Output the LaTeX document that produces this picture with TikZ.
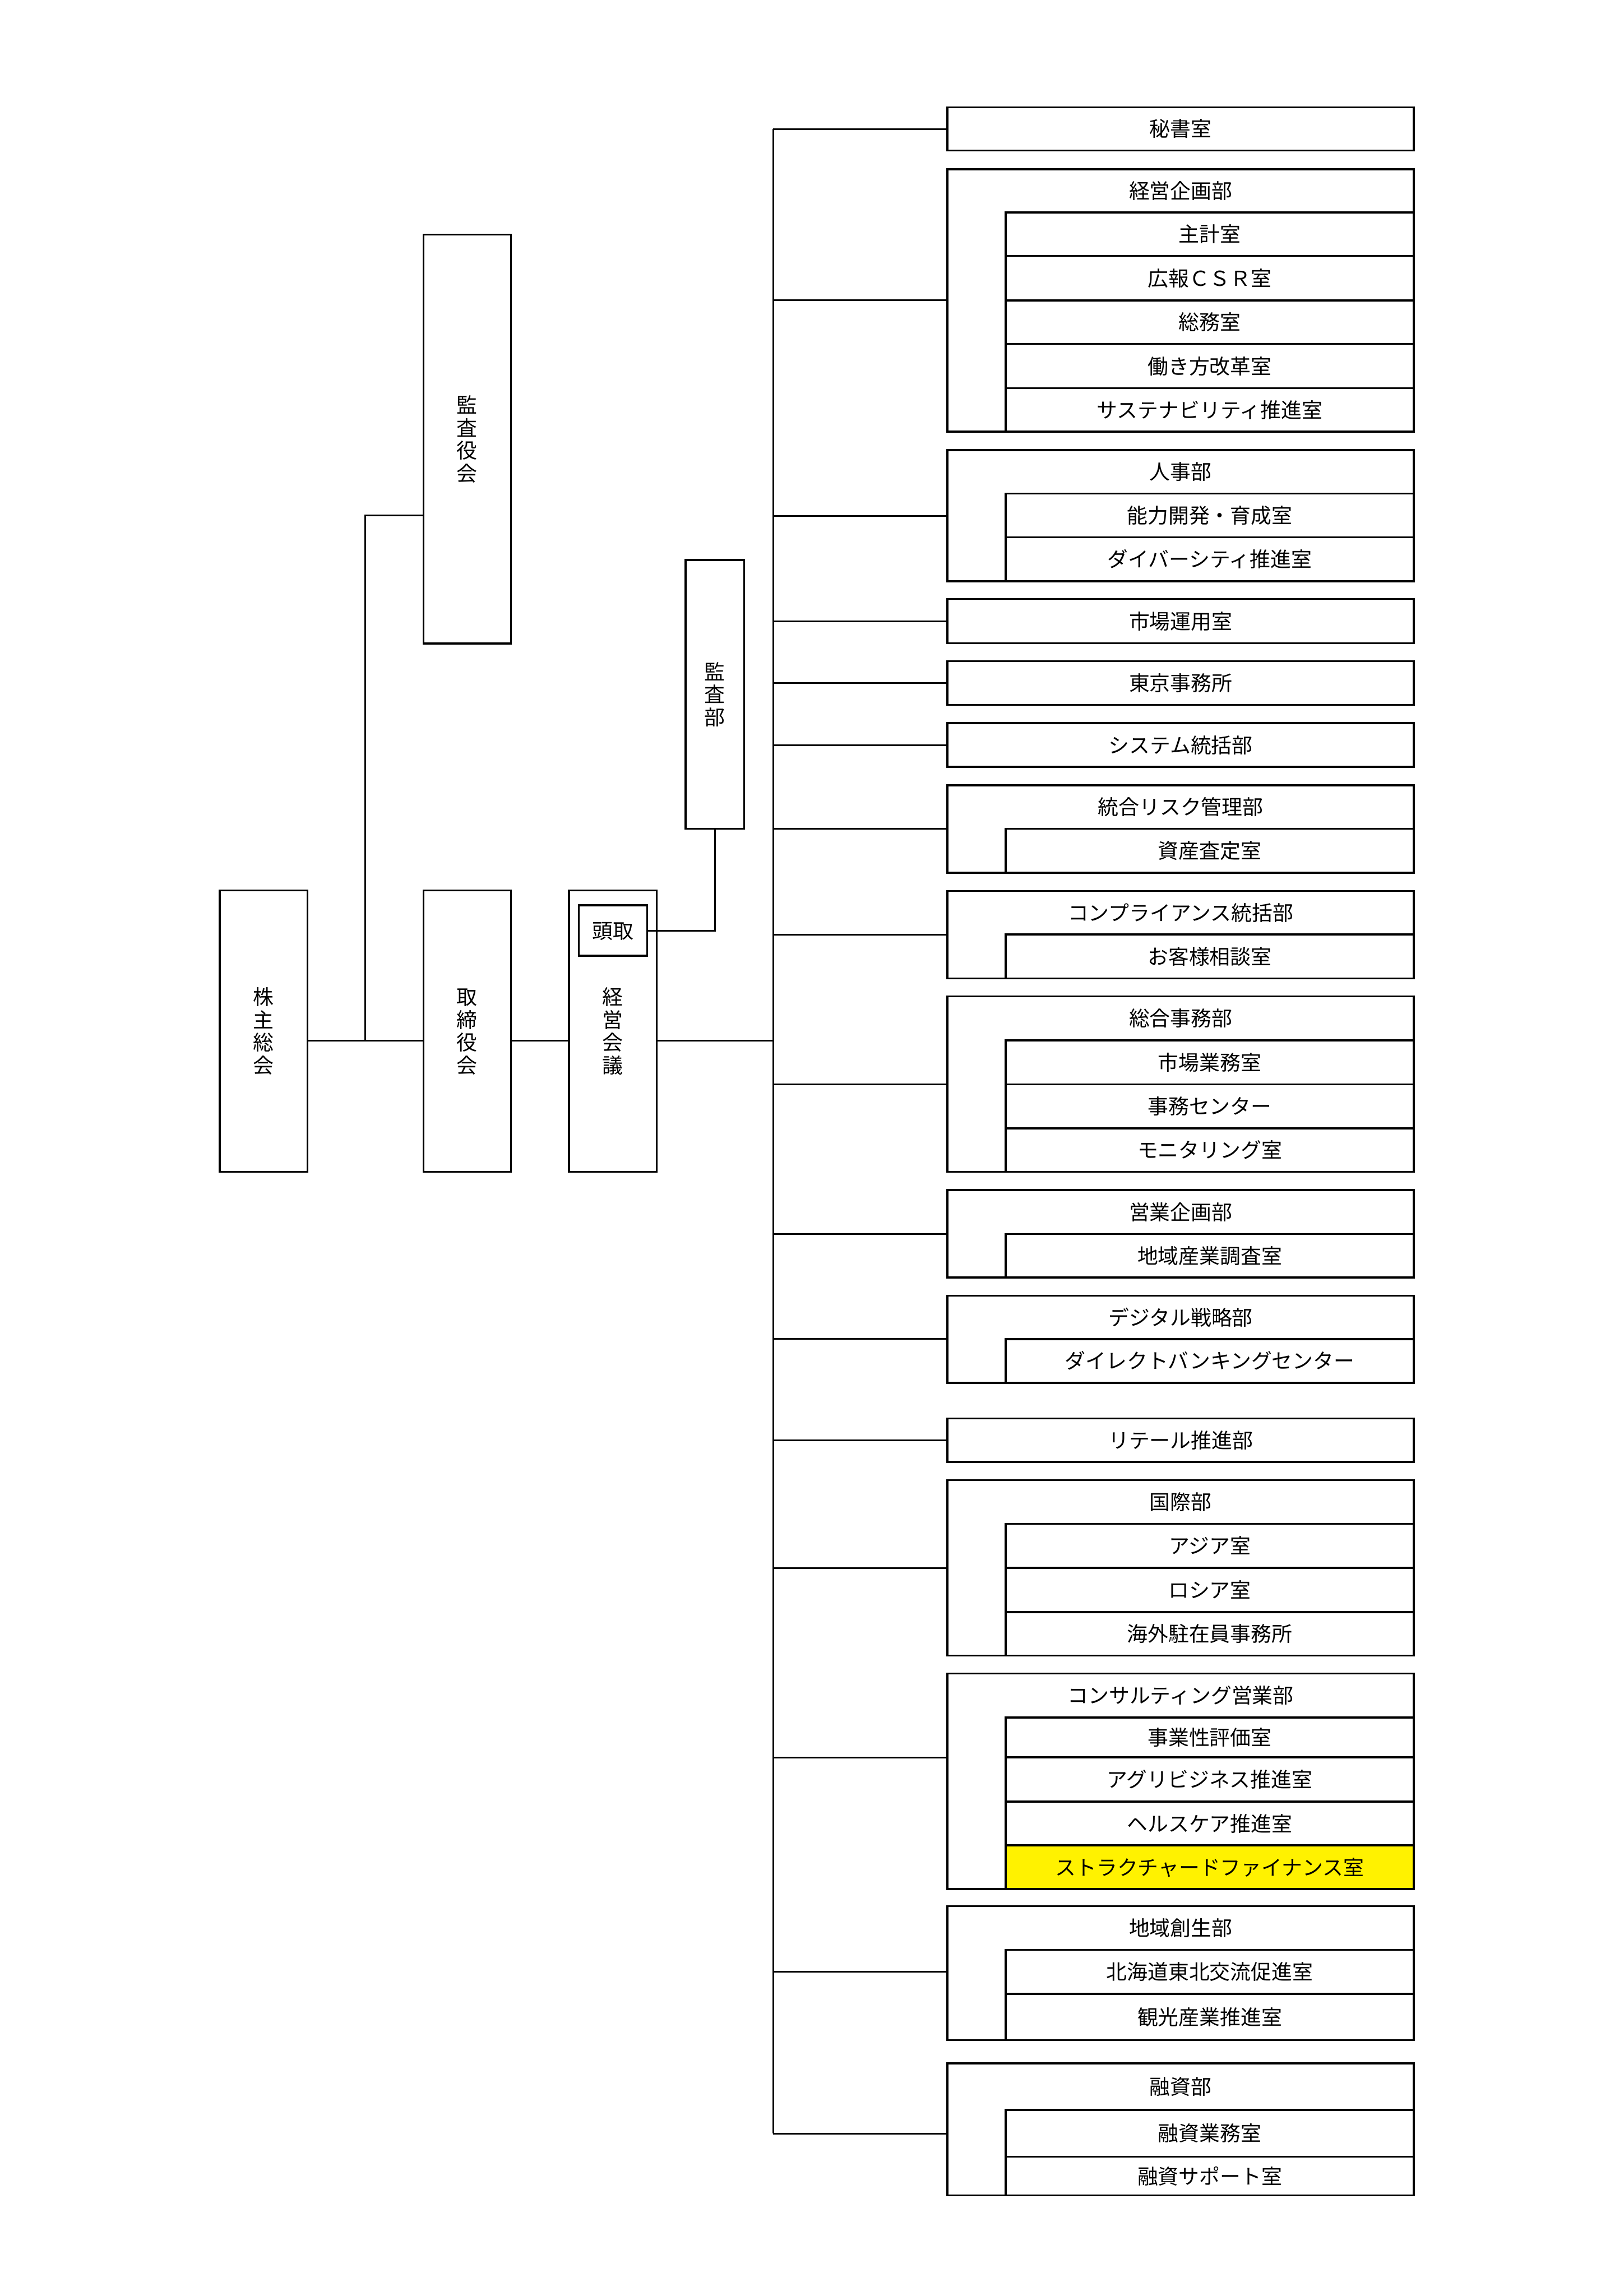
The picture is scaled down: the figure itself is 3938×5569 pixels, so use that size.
\documentclass[tikz,border=0pt]{standalone}
\usepackage{fontspec}
\setmainfont{Noto Sans CJK JP}

\begin{document}
\begin{tikzpicture}[x=0.053327mm, y=-0.053327mm,
    box/.style={draw, line width=0.7pt, inner sep=0pt, outer sep=0pt, anchor=north west},
    wh/.style 2 args={minimum width=(#1)*0.151727pt, minimum height=(#2)*0.151727pt},
    dept/.style={box, wh={1131}{#1}},
    head/.style={inner sep=0pt, outer sep=0pt, anchor=north west, wh={1131}{#1}},
    room/.style={box, wh={990}{#1}},
    wire/.style={line width=0.6pt},
    font=\fontsize{7.6pt}{8.35pt}\selectfont, align=center,
    text height=6.7pt, text depth=0.9pt]
  \useasboundingbox (0,0) rectangle (3938,5569);

  % left column
  \node[box, wh={213}{682}, text height=31.75pt] (soukai) at (533,2160) {株\\主\\総\\会};
  \node[box, wh={212}{682}, text height=31.75pt] (torishimari) at (1027,2160) {取\\締\\役\\会};
  \node[box, wh={213}{682}, text height=31.75pt] (keiei) at (1380,2160) {経\\営\\会\\議};
  \node[box, wh={166}{122}] (toudori) at (1404,2196) {頭取};
  \node[box, wh={212}{992}, text height=31.75pt] (kansayaku) at (1027,569) {監\\査\\役\\会};
  \node[box, wh={142}{652}, text height=23.4pt] (kansabu) at (1663,1358) {監\\査\\部};

  \coordinate (m1) at (886,2523.5);
  \coordinate (k1) at (886,1250);
  \coordinate (j0) at (1875,2523.5);
  \draw[wire] (soukai.east |- m1) -- (torishimari.west |- m1);
  \draw[wire] (m1) -- (k1) -- (k1 -| kansayaku.west);
  \draw[wire] (torishimari.east |- m1) -- (keiei.west |- m1);
  \draw[wire] (keiei.east |- j0) -- (j0);
  \draw[wire] (toudori.east) -| (kansabu.south);

  % single departments
  \node[dept=105] (hisho) at (2298,260) {秘書室};
  \node[dept=107] (shijo) at (2298,1453) {市場運用室};
  \node[dept=106.4] (tokyo) at (2298,1603.6) {東京事務所};
  \node[dept=106] (system) at (2298,1754) {システム統括部};
  \node[dept=105.5] (retail) at (2298,3440.5) {リテール推進部};

  % 経営企画部
  \node[dept=636.5] (kikaku) at (2298,410.5) {};
  \node[head=105] (kikaku-h) at (2298,410.5) {経営企画部};
  \foreach \ya/\yb/\t [count=\i] in {515.5/620.6/主計室, 620.6/728.5/広報ＣＳＲ室,
      728.5/834/総務室, 834/941.5/働き方改革室, 941.5/1047/サステナビリティ推進室}
    \node[room=\yb-\ya] (kikaku-\i) at (2439,\ya) {\t};

  % 人事部
  \node[dept=318.5] (jinji) at (2298,1091.5) {};
  \node[head=105.5] (jinji-h) at (2298,1091.5) {人事部};
  \foreach \ya/\yb/\t [count=\i] in {1197/1303/能力開発・育成室, 1303/1410/ダイバーシティ推進室}
    \node[room=\yb-\ya] (jinji-\i) at (2439,\ya) {\t};

  % 統合リスク管理部
  \node[dept=212.1] (risk) at (2298,1904.6) {};
  \node[head=105.4] (risk-h) at (2298,1904.6) {統合リスク管理部};
  \node[room=106.7] (risk-1) at (2439,2010) {資産査定室};

  % コンプライアンス統括部
  \node[dept=212.3] (comp) at (2298,2160.7) {};
  \node[head=105.9] (comp-h) at (2298,2160.7) {コンプライアンス統括部};
  \node[room=106.4] (comp-1) at (2439,2266.6) {お客様相談室};

  % 総合事務部
  \node[dept=425.5] (jimu) at (2298,2416.5) {};
  \node[head=107.1] (jimu-h) at (2298,2416.5) {総合事務部};
  \foreach \ya/\yb/\t [count=\i] in {2523.6/2630/市場業務室, 2630/2736.6/事務センター,
      2736.6/2842/モニタリング室}
    \node[room=\yb-\ya] (jimu-\i) at (2439,\ya) {\t};

  % 営業企画部
  \node[dept=212.1] (eigyo) at (2298,2886.5) {};
  \node[head=106.5] (eigyo-h) at (2298,2886.5) {営業企画部};
  \node[room=105.6] (eigyo-1) at (2439,2993) {地域産業調査室};

  % デジタル戦略部
  \node[dept=211.4] (digital) at (2298,3142.6) {};
  \node[head=105.4] (digital-h) at (2298,3142.6) {デジタル戦略部};
  \node[room=106] (digital-1) at (2439,3248) {ダイレクトバンキングセンター};

  % 国際部
  \node[dept=425.6] (kokusai) at (2298,3590) {};
  \node[head=106] (kokusai-h) at (2298,3590) {国際部};
  \foreach \ya/\yb/\t [count=\i] in {3696/3803/アジア室, 3803/3910/ロシア室,
      3910/4015.6/海外駐在員事務所}
    \node[room=\yb-\ya] (kokusai-\i) at (2439,\ya) {\t};

  % コンサルティング営業部
  \node[dept=522.4] (consul) at (2298,4059.4) {};
  \node[head=106.2] (consul-h) at (2298,4059.4) {コンサルティング営業部};
  \foreach \ya/\yb/\t [count=\i] in {4165.6/4262.5/事業性評価室, 4262.5/4369.6/アグリビジネス推進室,
      4369.6/4475.9/ヘルスケア推進室}
    \node[room=\yb-\ya] (consul-\i) at (2439,\ya) {\t};
  \node[room=105.9, fill=yellow] (consul-4) at (2439,4475.9) {ストラクチャードファイナンス室};

  % 地域創生部
  \node[dept=325] (chiiki) at (2298,4623) {};
  \node[head=106.7] (chiiki-h) at (2298,4623) {地域創生部};
  \foreach \ya/\yb/\t [count=\i] in {4729.7/4836/北海道東北交流促進室, 4836/4948/観光産業推進室}
    \node[room=\yb-\ya] (chiiki-\i) at (2439,\ya) {\t};

  % 融資部
  \node[dept=320.2] (yushi) at (2298,5004.6) {};
  \node[head=112.9] (yushi-h) at (2298,5004.6) {融資部};
  \foreach \ya/\yb/\t [count=\i] in {5117.5/5231/融資業務室, 5231/5324.8/融資サポート室}
    \node[room=\yb-\ya] (yushi-\i) at (2439,\ya) {\t};

  % trunk and branches
  \foreach \d/\y in {hisho/313, kikaku/728.5, jinji/1251, shijo/1507, tokyo/1657,
      system/1807.7, risk/2010, comp/2266.6, jimu/2630, eigyo/2993, digital/3248,
      retail/3494, kokusai/3803, consul/4262.5, chiiki/4782.7, yushi/5175} {
    \coordinate (j-\d) at (1875,\y);
    \draw[wire] (j-\d) -- (j-\d -| \d.west);
  }
  \draw[wire] (j-hisho) -- (j-yushi);
\end{tikzpicture}
\end{document}
